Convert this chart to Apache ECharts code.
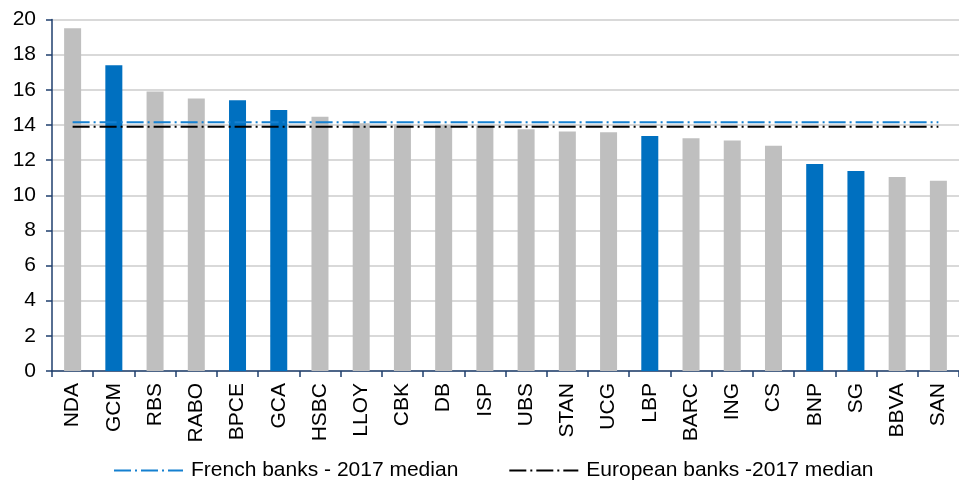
<!DOCTYPE html>
<html>
<head>
<meta charset="utf-8">
<script src="https://cdn.jsdelivr.net/npm/echarts@6/dist/echarts.min.js"></script>
<style>
html,body{margin:0;padding:0;background:#fff;}
#chart{width:959px;height:484px;}
</style>
</head>
<body>
<div id="chart"></div>
<script>
const categories = ['NDA','GCM','RBS','RABO','BPCE','GCA','HSBC','LLOY','CBK','DB','ISP','UBS','STAN','UCG','LBP','BARC','ING','CS','BNP','SG','BBVA','SAN'];
const values = [19.5,17.4,15.9,15.5,15.4,14.85,14.47,14.1,14.02,14.0,13.95,13.75,13.63,13.58,13.37,13.25,13.12,12.82,11.78,11.38,11.04,10.83];
const frenchBanks = ['GCM','BPCE','GCA','LBP','BNP','SG'];
const frenchMedian = 14.15;
const europeanMedian = 13.9;
const frenchLabel = 'French banks - 2017 median';
const europeanLabel = 'European banks -2017 median';
const yTicks = {min: 0, max: 20, interval: 2};

const BLUE = '#0070C0';
const GRAY = '#BFBFBF';
const FONT = '"Liberation Sans", Arial, sans-serif';

const chart = echarts.init(document.getElementById('chart'), null, {renderer: 'canvas'});
chart.setOption({
  animation: false,
  backgroundColor: '#fff',
  textStyle: {fontFamily: FONT},
  grid: {left: 52, top: 19.5, width: 918, height: 351.5, containLabel: false},
  legend: {
    left: 108, top: 455,
    itemWidth: 69, itemHeight: 14, itemGap: 50,
    itemStyle: {color: 'rgba(0,0,0,0)', borderColor: 'rgba(0,0,0,0)', borderWidth: 0},
    textStyle: {fontFamily: FONT, fontSize: 21, color: '#000', padding: [0,0,0,3]},
    data: [frenchLabel, europeanLabel]
  },
  xAxis: {
    type: 'category',
    data: categories,
    boundaryGap: true,
    axisLine: {lineStyle: {color: '#1F3F6E', width: 1.5}},
    axisTick: {show: true, length: 6, lineStyle: {color: '#1F3F6E', width: 1.5}},
    axisLabel: {rotate: 90, margin: 12, fontSize: 21, color: '#000', fontFamily: FONT, interval: 0},
    splitLine: {show: false}
  },
  yAxis: {
    type: 'value',
    min: yTicks.min, max: yTicks.max, interval: yTicks.interval,
    axisLine: {show: true, lineStyle: {color: '#1F3F6E', width: 1.5}},
    axisTick: {show: true, length: 6, lineStyle: {color: '#1F3F6E', width: 1.5}},
    axisLabel: {margin: 16, fontSize: 21, color: '#000', fontFamily: FONT},
    splitLine: {show: true, lineStyle: {color: '#D9D9D9', width: 2}}
  },
  series: [
    {
      type: 'bar',
      name: 'bars',
      data: values,
      barWidth: 17,
      itemStyle: {color: p => frenchBanks.includes(p.name) ? BLUE : GRAY},
      z: 2
    },
    {
      type: 'line',
      name: frenchLabel,
      data: categories.map(() => frenchMedian),
      symbol: 'none',
      lineStyle: {color: '#1580D0', width: 2, type: [17,4,2,4]},
      itemStyle: {color: '#1580D0'},
      z: 3
    },
    {
      type: 'line',
      name: europeanLabel,
      data: categories.map(() => europeanMedian),
      symbol: 'none',
      lineStyle: {color: '#000', width: 2, type: [17,4,2,4]},
      itemStyle: {color: '#000'},
      z: 3
    }
  ]
});
</script>
</body>
</html>
